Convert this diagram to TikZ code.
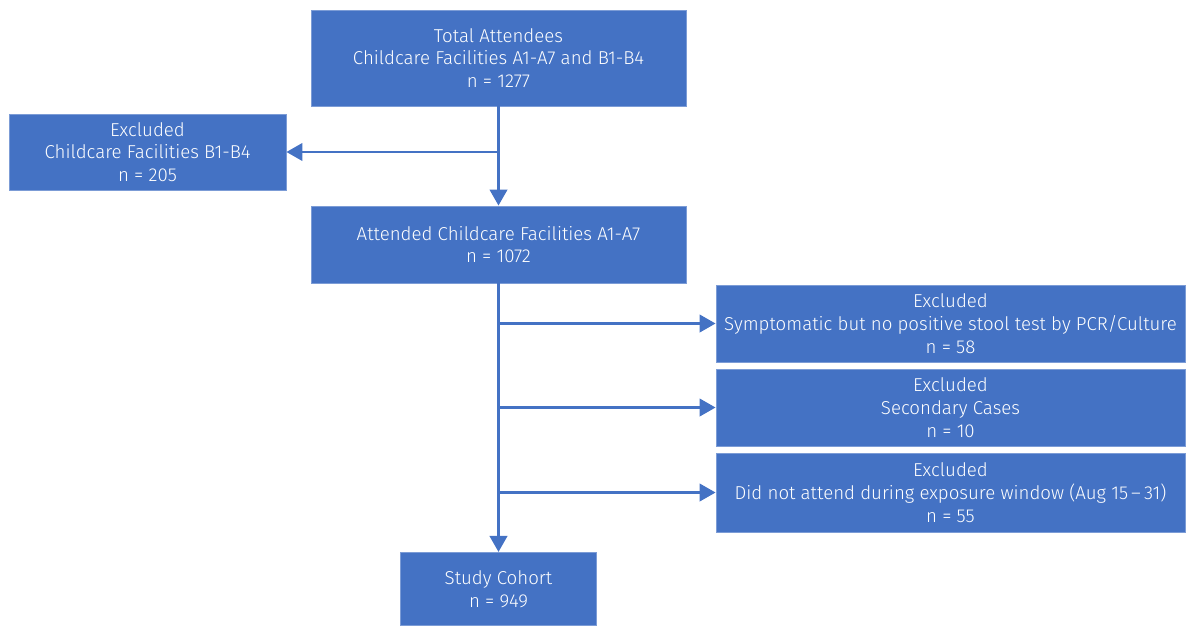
\documentclass[tikz,border=0pt]{standalone}
\usepackage{fontspec}
\setmainfont{Fira Sans Light}
\usetikzlibrary{arrows.meta}
\definecolor{obox}{HTML}{4472C4}
\tikzset{
  box/.style={fill=obox, draw=obox!70!white, line width=0.6pt, text=white, align=center,
    font=\fontsize{14}{17}\selectfont, inner sep=0pt},
  conn/.style={draw=obox, line width=2.2pt},
  arr/.style={conn, -{Triangle[length=12pt,width=13pt]}}
}
\begin{document}
\begin{tikzpicture}[x=0.75pt,y=-0.75pt]
\useasboundingbox (0,0) rectangle (1186,626);
\node[box, minimum width=281.25pt, minimum height=72pt] (top) at (498.5,58) {Total Attendees\\Childcare Facilities A1-A7 and B1-B4\\n = 1277};
\node[box, minimum width=207.75pt, minimum height=57pt] (left) at (147.5,152) {Excluded\\Childcare Facilities B1-B4\\n = 205};
\node[box, minimum width=281.25pt, minimum height=57.75pt] (mid) at (498.5,244.5) {Attended Childcare Facilities A1-A7\\n = 1072};
\node[box, minimum width=351.75pt, minimum height=57.75pt] (r1) at (950.5,323.5) {Excluded\\Symptomatic but no positive stool test by PCR/Culture\\n = 58};
\node[box, minimum width=351.75pt, minimum height=57.75pt] (r2) at (950.5,407.5) {Excluded\\Secondary Cases\\n = 10};
\node[box, minimum width=351.75pt, minimum height=59.25pt] (r3) at (950.5,492.5) {Excluded\\Did not attend during exposure window (Aug 15\,--\,31)\\n = 55};
\node[box, minimum width=147pt, minimum height=55pt] (bot) at (498.5,589) {Study Cohort\\n = 949};
\coordinate (j0) at (top.south |- left.east);
\coordinate (j1) at (mid.south |- r1.west);
\coordinate (j2) at (mid.south |- r2.west);
\coordinate (j3) at (mid.south |- r3.west);
\draw[arr] (top.south) -- (mid.north);
\draw[arr] (j0) -- (left.east);
\draw[arr] (mid.south) -- (bot.north);
\draw[arr] (j1) -- (r1.west);
\draw[arr] (j2) -- (r2.west);
\draw[arr] (j3) -- (r3.west);
\end{tikzpicture}
\end{document}
